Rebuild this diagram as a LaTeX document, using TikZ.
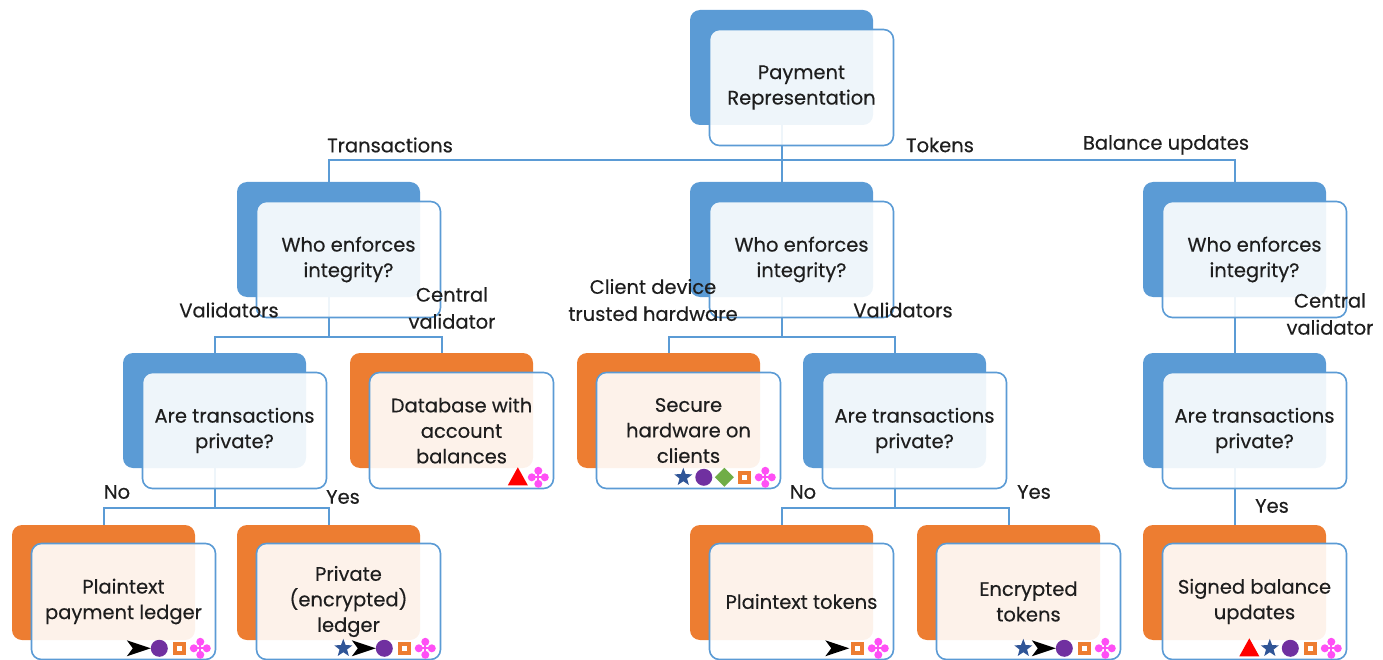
\documentclass[tikz,border=0pt]{standalone}
\usepackage{fontspec}
\setmainfont{Poppins}[FakeBold=0.35]
\usetikzlibrary{shapes.geometric}

\definecolor{qblue}{HTML}{5B9BD5}
\definecolor{aorange}{HTML}{ED7D31}
\definecolor{ink}{HTML}{1E1E1E}
\definecolor{mkblue}{HTML}{2F5597}
\definecolor{mkpurple}{HTML}{7030A0}
\definecolor{mkgreen}{HTML}{70AD47}
\definecolor{mkpink}{HTML}{FF4FF5}
\definecolor{mkred}{HTML}{FF0000}

% small marks under the answers
\tikzset{
  pics/mstar/.style={code={\node[star, star points=5, star point ratio=2.4, fill=mkblue, inner sep=0pt, minimum size=19pt] {};}},
  pics/mdot/.style={code={\fill[mkpurple] (0,0) circle (8.5);}},
  pics/msq/.style={code={\fill[aorange] (-6.5,-6.5) rectangle (6.5,6.5); \fill[white] (-2.5,-2.5) rectangle (2.5,2.5);}},
  pics/mdiam/.style={code={\fill[mkgreen] (0,-9.5) -- (9.5,0) -- (0,9.5) -- (-9.5,0) -- cycle;}},
  pics/mtri/.style={code={\fill[mkred] (0,-10) -- (10,8) -- (-10,8) -- cycle;}},
  pics/marrow/.style={code={\fill[black] (-12,-8) -- (12,0) -- (-12,8) -- (-6,0) -- cycle;}},
  pics/mclover/.style={code={
    \fill[mkpink] (-6.5,0) circle (4) (6.5,0) circle (4) (0,-6.5) circle (4) (0,6.5) circle (4);
    \draw[mkpink, line width=1.8pt] (-6,0) -- (6,0) (0,-6) -- (0,6);}}
}

% marks, listed right to left
\newcommand{\putmarks}[2]{%
  \foreach \m [count=\i] in {#2}
    \pic at ([shift={(-16-20.5*\i+20.5,-12)}]#1.south east) {\m};}

\begin{document}
\begin{tikzpicture}[
    x=1pt, y=-1pt,
    font=\fontsize{19.5}{25.5}\selectfont,
    text=ink,
    card/.style={rounded corners=10pt, minimum width=183pt, minimum height=115pt, inner sep=0pt},
    ask/.style={card, fill=qblue},
    answer/.style={card, fill=aorange},
    face/.style={card, draw=qblue, line width=1.6pt, fill=white, fill opacity=0.9, text opacity=1,
      align=center, minimum width=184pt, minimum height=116pt},
    link/.style={draw=qblue, line width=2pt},
    tag/.style={align=center, inner sep=0pt, font=\fontsize{19.5}{27}\selectfont}
  ]
  \useasboundingbox (0,0) rectangle (1383,660);

  % Back cards
  \node[ask] (root) at (781.5, 67.5) {};
  \node[ask] (qtx) at (328.5, 239.5) {};
  \node[ask] (qtk) at (781.5, 239.5) {};
  \node[ask] (qbal) at (1234.5, 239.5) {};
  \node[ask] (ptx) at (214.5, 410.5) {};
  \node[answer] (db) at (441.5, 410.5) {};
  \node[answer] (hw) at (668.5, 410.5) {};
  \node[ask] (ptk) at (894.5, 410.5) {};
  \node[ask] (pbal) at (1234.5, 410.5) {};
  \node[answer] (ledger) at (103.5, 582.5) {};
  \node[answer] (encledger) at (328.5, 582.5) {};
  \node[answer] (plaintok) at (781.5, 582.5) {};
  \node[answer] (enctok) at (1008.5, 582.5) {};
  \node[answer] (signed) at (1234.5, 582.5) {};

  % Connectors
  \draw[link] (root.south) -- ++(0,35) coordinate (b1);
  \draw[link] (qtx.north) |- (b1) -| (qbal.north);
  \draw[link] (b1) -- (qtk.north);
  \draw[link] (qtx.south) -- ++(0,40) coordinate (b2);
  \draw[link] (ptx.north) |- (b2) -| (db.north);
  \draw[link] (qtk.south) -- ++(0,40) coordinate (b3);
  \draw[link] (hw.north) |- (b3) -| (ptk.north);
  \draw[link] (qbal.south) -- (pbal.north);
  \draw[link] (ptx.south) -- ++(0,40) coordinate (b4);
  \draw[link] (ledger.north) |- (b4) -| (encledger.north);
  \draw[link] (ptk.south) -- ++(0,40) coordinate (b5);
  \draw[link] (plaintok.north) |- (b5) -| (enctok.north);
  \draw[link] (pbal.south) -- (signed.north);

  % Front cards
  \node[face] (root-f) at ([shift={(20,20)}]root.center) {Payment\\Representation};
  \node[face] (qtx-f) at ([shift={(20,20)}]qtx.center) {Who enforces\\integrity?};
  \node[face] (qtk-f) at ([shift={(20,20)}]qtk.center) {Who enforces\\integrity?};
  \node[face] (qbal-f) at ([shift={(20,20)}]qbal.center) {Who enforces\\integrity?};
  \node[face] (ptx-f) at ([shift={(20,20)}]ptx.center) {Are transactions\\private?};
  \node[face] (db-f) at ([shift={(20,20)}]db.center) {Database with\\account\\balances};
  \node[face] (hw-f) at ([shift={(20,20)}]hw.center) {Secure\\hardware on\\clients};
  \node[face] (ptk-f) at ([shift={(20,20)}]ptk.center) {Are transactions\\private?};
  \node[face] (pbal-f) at ([shift={(20,20)}]pbal.center) {Are transactions\\private?};
  \node[face] (ledger-f) at ([shift={(20,19)}]ledger.center) {Plaintext\\payment ledger};
  \node[face] (encledger-f) at ([shift={(20,19)}]encledger.center) {Private\\(encrypted)\\ledger};
  \node[face] (plaintok-f) at ([shift={(20,19)}]plaintok.center) {Plaintext tokens};
  \node[face] (enctok-f) at ([shift={(20,19)}]enctok.center) {Encrypted\\tokens};
  \node[face] (signed-f) at ([shift={(20,19)}]signed.center) {Signed balance\\updates};

  % Labels
  \node[tag] (l-tx) at (390,145) {Transactions};
  \node[tag] (l-tk) at (940,145) {Tokens};
  \node[tag] (l-bal) at (1166,145) {Balance updates};
  \node[tag] (l-val1) at (229,310) {Validators};
  \node[tag] (l-cen1) at (452,308) {Central\\validator};
  \node[tag] (l-dev) at (653,300) {Client device\\trusted hardware};
  \node[tag] (l-val2) at (903,310) {Validators};
  \node[tag] (l-cen2) at (1330,314) {Central\\validator};
  \node[tag] (l-no1) at (117,492) {No};
  \node[tag] (l-yes1) at (343,497) {Yes};
  \node[tag] (l-no2) at (803,492) {No};
  \node[tag] (l-yes2) at (1034,492) {Yes};
  \node[tag] (l-yes3) at (1272,506) {Yes};

  % Marks
  \putmarks{ledger-f}{mclover,msq,mdot,marrow}
  \putmarks{encledger-f}{mclover,msq,mdot,marrow,mstar}
  \putmarks{db-f}{mclover,mtri}
  \putmarks{hw-f}{mclover,msq,mdiam,mdot,mstar}
  \putmarks{plaintok-f}{mclover,msq,marrow}
  \putmarks{enctok-f}{mclover,msq,mdot,marrow,mstar}
  \putmarks{signed-f}{mclover,msq,mdot,mstar,mtri}
\end{tikzpicture}
\end{document}
